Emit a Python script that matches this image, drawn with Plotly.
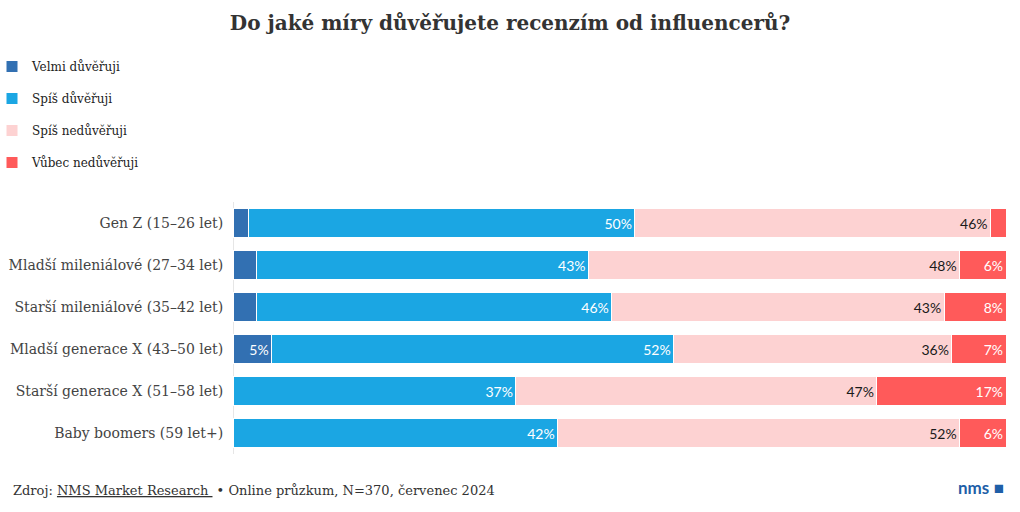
import plotly.graph_objects as go

categories = [
    "Gen Z (15–26 let)",
    "Mladší mileniálové (27–34 let)",
    "Starší mileniálové (35–42 let)",
    "Mladší generace X (43–50 let)",
    "Starší generace X (51–58 let)",
    "Baby boomers (59 let+)",
]
series_names = ["Velmi důvěřuji", "Spíš důvěřuji", "Spíš nedůvěřuji", "Vůbec nedůvěřuji"]
velmi = [2, 3, 3, 5, 0, 0]
spis = [50, 43, 46, 52, 36.6, 42]
spis_ne = [46, 48, 43, 36, 46.7, 52]
vubec = [2, 6, 8, 7, 16.7, 6]

colors = ["#3270b2", "#1ba6e3", "#fdd2d2", "#ff5a5a"]
text_colors = ["white", "white", "#1a1a1a", "white"]

W, H = 1020, 512
L, R, T, B = 233, 14, 202, 58
pw = W - L - R
ph = H - T - B

def px_x(p):
    return (p - L) / pw

def px_y(p):
    return 1 - (p - T) / ph

fig = go.Figure()
for i, (name, vals) in enumerate(zip(series_names, [velmi, spis, spis_ne, vubec])):
    fig.add_trace(go.Bar(
        y=categories,
        x=vals,
        name=name,
        orientation="h",
        marker=dict(color=colors[i], line=dict(color="white", width=1)),
        text=[f"{v:.0f}%" if v >= 4 else "" for v in vals],
        textposition="inside",
        insidetextanchor="end",
        textfont=dict(family="Lato, Open Sans, sans-serif", size=14, color=text_colors[i]),
        legendgroup=name,
        hovertemplate="%{y}<br>" + name + ": %{x:.0f}%<extra></extra>",
    ))

fig.update_layout(
    width=W, height=H,
    barmode="stack",
    bargap=0.33,
    margin=dict(l=L, r=R, t=T, b=B, autoexpand=False),
    paper_bgcolor="white",
    plot_bgcolor="white",
    font=dict(family="DejaVu Serif, Liberation Serif, serif", color="#333333"),
    title=dict(
        text="<b>Do jaké míry důvěřujete recenzím od influencerů?</b>",
        x=0.5, xanchor="center", y=1 - 23 / H, yanchor="middle",
        font=dict(family="DejaVu Serif, Liberation Serif, serif", size=20, color="#333333"),
    ),
    legend=dict(
        x=px_x(-8), xanchor="left",
        y=px_y(52), yanchor="top",
        orientation="v",
        traceorder="grouped",
        tracegroupgap=13,
        font=dict(family="DejaVu Serif, Liberation Serif, serif", size=12, color="#222222"),
        bgcolor="rgba(0,0,0,0)",
    ),
    xaxis=dict(
        range=[0, 100], visible=True, showticklabels=False, showgrid=False,
        zeroline=True, zerolinecolor="#e6e6e6", zerolinewidth=1, fixedrange=True,
    ),
    yaxis=dict(
        autorange="reversed", showgrid=False, ticks="", ticklen=0,
        tickfont=dict(family="DejaVu Serif, Liberation Serif, serif", size=14, color="#444444"),
        ticksuffix="  ", automargin=False, fixedrange=True,
    ),
    annotations=[
        dict(
            text="Zdroj: <u>NMS Market Research </u> • Online průzkum, N=370, červenec 2024",
            xref="paper", yref="paper", x=px_x(11), y=px_y(490),
            xanchor="left", yanchor="middle", showarrow=False,
            font=dict(family="DejaVu Serif, Liberation Serif, serif", size=13, color="#333333"),
        ),
        dict(
            text="<b>nms</b> ■",
            xref="paper", yref="paper", x=px_x(1006), y=px_y(487),
            xanchor="right", yanchor="middle", showarrow=False,
            font=dict(family="Lato, Open Sans, sans-serif", size=17, color="#1f5fa8"),
        ),
    ],
)

fig.write_html(
    "out.html",
    config={"displayModeBar": False},
    post_script="document.body.style.margin='0';",
)
